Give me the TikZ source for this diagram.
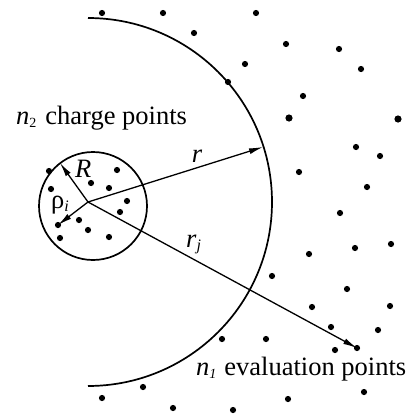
\documentclass[tikz,border=0pt]{standalone}
\usepackage{fontspec}
\setmainfont{Liberation Serif}
\usetikzlibrary{arrows.meta}
\begin{document}
\begin{tikzpicture}[x=1pt,y=-1pt,
  dot/.style={fill=black},
  vec/.style={line width=1.3pt,-{Latex[length=14pt,width=6pt]}},
  lbl/.style={inner sep=0pt,font=\fontsize{26.5}{30}\selectfont},
  bound/.style={line width=1.7pt}]
\useasboundingbox (0,0) rectangle (415,418);
\coordinate (O) at (88,202);
\coordinate (C) at (93,206);
% big arc
\draw[bound] (O) ++(0,-184) arc[start angle=-90,end angle=90,radius=184];
% small circle
\draw[bound] (C) circle[radius=54];
% dots
\foreach \p in {(102,13),(163,13),(194,33),(256,13),(286,44),(339,49),(245,64),(228,82),(361,69),(303,96),(356,147),(380,156),(299,172),(367,187),
(340,213),(355,248),(391,244),(309,254),(272,276),(347,289),(312,307),(390,306),(331,327),(378,330),(222,339),(266,339),(335,350),(364,392),(288,399),(233,410),(143,387),(102,398),(173,408),
(49,171),(117,170),(91,183),(109,188),(51,189),(127,201),(120,212),(79,220),(88,230),(60,238),(109,237)}
  \fill[dot] \p circle[radius=3.1pt];
\foreach \p in {(289,118),(398,119)}
  \fill[dot] \p circle[radius=3.6pt];
\coordinate (Ptr) at (263,147);
\coordinate (PR) at (60,163);
\node[circle,fill=black,minimum size=6.2pt,inner sep=0pt] (Pj) at (357,348) {};
\node[circle,fill=black,minimum size=6.2pt,inner sep=0pt] (Prho) at (58,225) {};
% vectors
\draw[vec] (O) -- (Ptr);
\draw[vec] (O) -- (Pj.center);
\draw[vec] (O) -- (PR);
\draw[vec] (O) -- (Prho.center);
% labels
\node[lbl,anchor=base west] (n2) at (16,124) {\textit{n}\raisebox{-0.25ex}{\fontsize{14}{14}\selectfont 2}\kern9pt charge points};
\node[lbl,anchor=base west] (n1) at (196,375) {\textit{n}\raisebox{-0.25ex}{\fontsize{14}{14}\selectfont\itshape 1}\kern8pt evaluation points};
\node[lbl,anchor=base] (lr) at (197,162) {\textit{r}};
\node[lbl,anchor=base west] (lrj) at (186,247) {\textit{r}\raisebox{-0.3ex}{\fontsize{16}{16}\selectfont\itshape j}};
\node[lbl,anchor=base west] (lR) at (75,177) {\textit{R}};
\node[lbl,anchor=base west] (lrho) at (51,208) {ρ\raisebox{-0.3ex}{\fontsize{16}{16}\selectfont\itshape i}};
\end{tikzpicture}
\end{document}
